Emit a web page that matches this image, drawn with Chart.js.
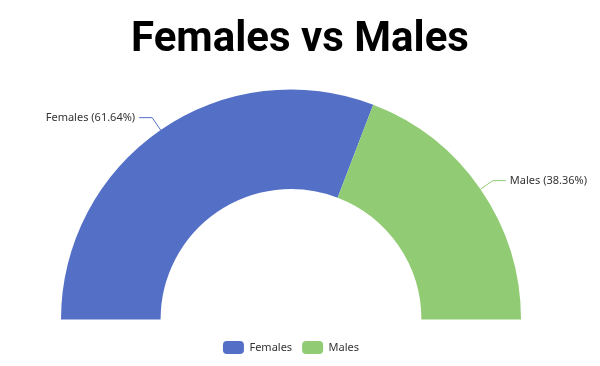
<!DOCTYPE html>
<html>
<head>
<meta charset="utf-8">
<script src="https://cdn.jsdelivr.net/npm/chart.js@4/dist/chart.umd.min.js"></script>
<style>
  html, body { margin: 0; padding: 0; background: #fff; }
  #wrap { position: relative; width: 600px; height: 366px; }
  #title {
    position: absolute; left: 0; top: 11px; width: 600px; text-align: center;
    font: bold 42px Roboto, sans-serif; color: #000; line-height: 52px;
  }
</style>
</head>
<body>
<div id="wrap">
  <canvas id="chart" width="600" height="366"></canvas>
  <div id="title">Females vs Males</div>
</div>
<script>
const labels = ['Females', 'Males'];
const values = [61.64, 38.36];
const colors = ['#5470c6', '#91cc75'];

// outside labels with leader lines, like the reference
const outsideLabels = {
    id: 'outsideLabels',
    afterDatasetsDraw(chart) {
        const ctx = chart.ctx;
        const meta = chart.getDatasetMeta(0);
        const total = values.reduce((a, b) => a + b, 0);
        ctx.save();
        ctx.font = '11px "Noto Sans", sans-serif';
        ctx.textBaseline = 'middle';
        meta.data.forEach((arc, i) => {
            const p = arc.getProps(['x', 'y', 'startAngle', 'endAngle', 'outerRadius']);
            const mid = (p.startAngle + p.endAngle) / 2;
            const cos = Math.cos(mid), sin = Math.sin(mid);
            const x0 = p.x + cos * p.outerRadius, y0 = p.y + sin * p.outerRadius;
            const x1 = p.x + cos * (p.outerRadius + 15), y1 = p.y + sin * (p.outerRadius + 15);
            const dir = cos >= 0 ? 1 : -1;
            const x2 = x1 + dir * 13;
            ctx.strokeStyle = colors[i];
            ctx.lineWidth = 1;
            ctx.beginPath();
            ctx.moveTo(x0, y0);
            ctx.lineTo(x1, y1);
            ctx.lineTo(x2, y1);
            ctx.stroke();
            ctx.fillStyle = '#333';
            ctx.textAlign = dir > 0 ? 'left' : 'right';
            const pct = (values[i] / total * 100).toFixed(2);
            ctx.fillText(labels[i] + ' (' + pct + '%)', x2 + dir * 4, y1);
        });
        ctx.restore();
    }
};

new Chart(document.getElementById('chart'), {
    type: 'doughnut',
    data: {
        labels: labels,
        datasets: [{
            data: values,
            backgroundColor: colors,
            borderWidth: 0
        }]
    },
    options: {
        responsive: false,
        animation: false,
        rotation: -90,
        circumference: 180,
        cutout: '56.7%',
        layout: { padding: { left: 61, right: 79, top: 78, bottom: 2 } },
        plugins: {
            tooltip: { enabled: false },
            legend: {
                position: 'bottom',
                labels: {
                    boxWidth: 21,
                    boxHeight: 13,
                    useBorderRadius: true,
                    borderRadius: 4,
                    padding: 10,
                    color: '#333',
                    font: { family: '"Noto Sans", sans-serif', size: 11 }
                }
            }
        }
    },
    plugins: [outsideLabels]
});
</script>
</body>
</html>
